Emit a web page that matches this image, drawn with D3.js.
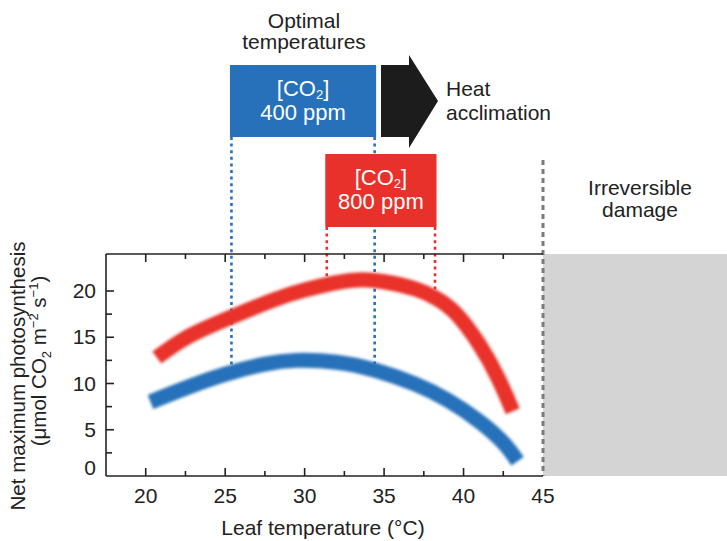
<!DOCTYPE html>
<html>
<head>
<meta charset="utf-8">
<script src="https://cdn.jsdelivr.net/npm/d3@7"></script>
<style>
  body { margin: 0; background: #fff; }
  text { font-family: "Liberation Sans", Arial, sans-serif; fill: #222; }
</style>
</head>
<body>
<div id="chart"></div>
<script>
// curve data: leaf temperature (°C) vs net max photosynthesis
let blueTemp = [20.3, 22.5, 25, 27.5, 29.5, 32, 34.5, 37, 39, 41, 42.5, 43.4];
let blueRate = [8.0, 9.5, 11.0, 12.1, 12.5, 12.3, 11.4, 9.9, 8.2, 5.9, 3.6, 1.6];
let redTemp = [20.7, 22.5, 25, 28, 30, 32, 33.4, 35, 37, 38.3, 39.5, 41, 42.2, 43.1];
let redRate = [12.8, 14.9, 16.9, 19.0, 20.1, 20.9, 21.2, 21.0, 20.2, 19.2, 17.6, 14.2, 10.5, 7.0];

// optimal temperature windows
let blueRange = [25.3, 34.5];
let redRange = [31.3, 38.3];
let damageTemp = 45;

let xTicks = [20, 25, 30, 35, 40, 45];
let xMinor = [22.5, 27.5, 32.5, 37.5, 42.5];
let yTicks = [0, 5, 10, 15, 20];
let yMinor = [2.5, 7.5, 12.5, 17.5];

let width = 727, height = 541;
let blue = '#2671b9', red = '#e8312a';

let svg = d3.select('#chart').append('svg')
  .attr('width', width)
  .attr('height', height);

let defs = svg.append('defs');
defs.append('filter')
  .attr('id', 'blur')
  .attr('filterUnits', 'userSpaceOnUse')
  .attr('x', 0).attr('y', 0).attr('width', width).attr('height', height)
  .append('feGaussianBlur')
  .attr('stdDeviation', 1.6);

let x = d3.scaleLinear().domain([17.5, 45]).range([106, 543]);
let y = d3.scaleLinear().domain([0, 24]).range([476, 254]);

// grey irreversible damage zone
svg.append('rect')
  .attr('x', x(damageTemp))
  .attr('y', y(24))
  .attr('width', width - x(damageTemp))
  .attr('height', y(0) - y(24))
  .attr('fill', '#d4d4d4');

// lookup of the curves to end the dotted guides on them
let blueAt = d3.scaleLinear().domain(blueTemp).range(blueRate);
let redAt = d3.scaleLinear().domain(redTemp).range(redRate);

let boxBlue = { top: 65, bottom: 137 };
let boxRed = { top: 154, bottom: 227 };

// dotted guides
blueRange.forEach((t, i) => {
  let xx = x(t) + (i === 0 ? 1.5 : -1.5);
  svg.append('line')
    .attr('x1', xx).attr('x2', xx)
    .attr('y1', boxBlue.bottom).attr('y2', y(blueAt(t)) - 4)
    .attr('stroke', blue).attr('stroke-width', 2.6)
    .attr('stroke-dasharray', '3,3.6');
});
redRange.forEach((t, i) => {
  let xx = x(t) + (i === 0 ? 1.5 : -1.5);
  svg.append('line')
    .attr('x1', xx).attr('x2', xx)
    .attr('y1', boxRed.bottom).attr('y2', y(redAt(t)) - 4)
    .attr('stroke', red).attr('stroke-width', 2.6)
    .attr('stroke-dasharray', '3,3.6');
});

// grey dashed limit
svg.append('line')
  .attr('x1', x(damageTemp)).attr('x2', x(damageTemp))
  .attr('y1', 160).attr('y2', y(0))
  .attr('stroke', '#7a7a7a').attr('stroke-width', 3)
  .attr('stroke-dasharray', '5,4');

// axes
let axisColor = '#222';
let frame = svg.append('g').attr('stroke', axisColor).attr('stroke-width', 1.6);
frame.append('line').attr('x1', x(17.5)).attr('x2', x(45)).attr('y1', y(0)).attr('y2', y(0));
frame.append('line').attr('x1', x(17.5)).attr('x2', x(45)).attr('y1', y(24)).attr('y2', y(24));
frame.append('line').attr('x1', x(17.5)).attr('x2', x(17.5)).attr('y1', y(0)).attr('y2', y(24));

let xAll = xTicks.filter(d => d < 45).map(d => [d, 8]).concat(xMinor.map(d => [d, 5]));
xAll.forEach(([t, len]) => {
  frame.append('line').attr('x1', x(t)).attr('x2', x(t)).attr('y1', y(0)).attr('y2', y(0) - len);
  frame.append('line').attr('x1', x(t)).attr('x2', x(t)).attr('y1', y(24)).attr('y2', y(24) + len);
});
let yAll = yTicks.filter(d => d > 0).map(d => [d, 8]).concat(yMinor.map(d => [d, 6]));
yAll.forEach(([v, len]) => {
  frame.append('line').attr('x1', x(17.5)).attr('x2', x(17.5) + len).attr('y1', y(v)).attr('y2', y(v));
});

svg.append('g').selectAll('text')
  .data(xTicks)
  .enter().append('text')
  .attr('x', d => x(d))
  .attr('y', 503)
  .attr('text-anchor', 'middle')
  .attr('font-size', 21)
  .text(d => d);

svg.append('g').selectAll('text')
  .data(yTicks)
  .enter().append('text')
  .attr('x', 96)
  .attr('y', d => d === 0 ? y(d) - 1 : y(d) + 7)
  .attr('text-anchor', 'end')
  .attr('font-size', 21)
  .text(d => d);

svg.append('text')
  .attr('x', 323).attr('y', 535)
  .attr('text-anchor', 'middle')
  .attr('font-size', 21)
  .text('Leaf temperature (°C)');

svg.append('text')
  .attr('transform', 'translate(25,376) rotate(-90)')
  .attr('text-anchor', 'middle')
  .attr('font-size', 20.5)
  .text('Net maximum photosynthesis');

let yl = svg.append('text')
  .attr('transform', 'translate(46,361) rotate(-90)')
  .attr('text-anchor', 'middle')
  .attr('font-size', 20.5);
yl.append('tspan').text('(μmol CO');
yl.append('tspan').attr('font-size', 13).attr('dy', 5).text('2');
yl.append('tspan').attr('dy', -5).text(' m');
yl.append('tspan').attr('font-size', 13).attr('dy', -8).text('−2');
yl.append('tspan').attr('dy', 8).text(' s');
yl.append('tspan').attr('font-size', 13).attr('dy', -8).text('−1');
yl.append('tspan').attr('dy', 8).text(')');

// curves
let line = d3.line()
  .x(d => x(d[0]))
  .y(d => y(d[1]))
  .curve(d3.curveNatural);

svg.append('path')
  .datum(d3.zip(redTemp, redRate))
  .attr('d', line)
  .attr('fill', 'none')
  .attr('stroke', red)
  .attr('stroke-width', 15)
  .attr('filter', 'url(#blur)');

svg.append('path')
  .datum(d3.zip(blueTemp, blueRate))
  .attr('d', line)
  .attr('fill', 'none')
  .attr('stroke', blue)
  .attr('stroke-width', 15)
  .attr('filter', 'url(#blur)');

// CO2 boxes, both lines in one text element
function co2Box(range, box, color, ppm) {
  let x0 = x(range[0]), x1 = x(range[1]);
  svg.append('rect')
    .attr('x', x0).attr('y', box.top)
    .attr('width', x1 - x0).attr('height', box.bottom - box.top)
    .attr('fill', color);
  let cx = (x0 + x1) / 2;
  let t = svg.append('text')
    .attr('x', cx).attr('y', box.top + 31)
    .attr('text-anchor', 'middle')
    .attr('font-size', 22)
    .style('fill', '#fff');
  t.append('tspan').text('[CO');
  t.append('tspan').attr('font-size', 13).attr('dy', 3).text('2');
  t.append('tspan').attr('dy', -3).text(']');
  t.append('tspan').attr('x', cx).attr('dy', 24).text(ppm + ' ppm');
}
co2Box(redRange, boxRed, red, 800);
co2Box(blueRange, boxBlue, blue, 400);

// heat acclimation arrow
svg.append('path')
  .attr('d', 'M381,65 H409 V55 L438,101 L409,148 V137 H381 Z')
  .attr('fill', '#1c1c1c');

let topLabels = [
  { x: 304, y: 28, anchor: 'middle', text: 'Optimal' },
  { x: 304, y: 49, anchor: 'middle', text: 'temperatures' },
  { x: 446, y: 96, anchor: 'start', text: 'Heat' },
  { x: 446, y: 120, anchor: 'start', text: 'acclimation' },
  { x: 640, y: 195, anchor: 'middle', text: 'Irreversible' },
  { x: 640, y: 217, anchor: 'middle', text: 'damage' }
];
svg.append('g').selectAll('text')
  .data(topLabels)
  .enter().append('text')
  .attr('x', d => d.x)
  .attr('y', d => d.y)
  .attr('text-anchor', d => d.anchor)
  .attr('font-size', 21)
  .text(d => d.text);
</script>
</body>
</html>
